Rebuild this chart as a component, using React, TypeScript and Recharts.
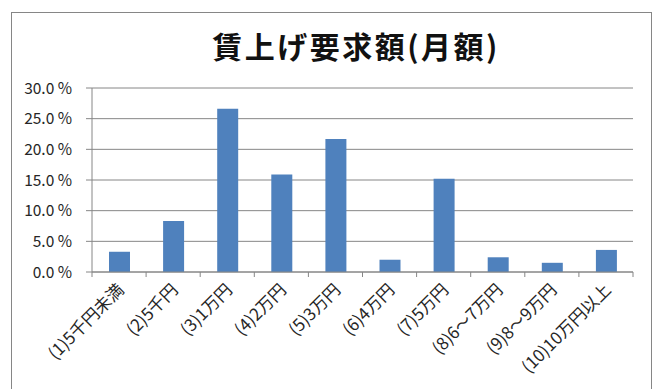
import React from 'react';
import { BarChart, Bar, XAxis, YAxis, CartesianGrid } from 'recharts';

// 賃上げ要求額（月額）の分布
const categories = [
  '(1)5千円未満',
  '(2)5千円',
  '(3)1万円',
  '(4)2万円',
  '(5)3万円',
  '(6)4万円',
  '(7)5万円',
  '(8)6～7万円',
  '(9)8～9万円',
  '(10)10万円以上',
];
const shares = [3.3, 8.3, 26.6, 15.9, 21.7, 2.0, 15.2, 2.4, 1.5, 3.6];
const yTicks = [0, 5, 10, 15, 20, 25, 30];

const W = 654;
const H = 389;
const MARGIN = { top: 88, right: 21, bottom: 17, left: 32 };
const Y_AXIS_W = 60;
const X_AXIS_H = 100;
const BAND = (W - MARGIN.left - MARGIN.right - Y_AXIS_W) / categories.length;

const FONT = '"Noto Sans CJK JP", "Noto Sans", sans-serif';
const TEXT = '#262626';
const LINE = '#868686';

const data = categories.map((name, i) => ({ name, value: shares[i] }));

// category label plus the boundary tick marks between categories
const CategoryTick = (props: any) => {
  const { x, y, payload, index } = props;
  const last = index === categories.length - 1;
  return (
    <g>
      <line x1={x - BAND / 2} y1={y} x2={x - BAND / 2} y2={y + 5} stroke={LINE} />
      {last && <line x1={x + BAND / 2} y1={y} x2={x + BAND / 2} y2={y + 5} stroke={LINE} />}
      <text
        transform={`translate(${x + 6},${y + 19}) rotate(-45)`}
        textAnchor="end"
        fontSize={17}
        fontFamily={FONT}
        fill={TEXT}
      >
        {payload.value}
      </text>
    </g>
  );
};

export default function App() {
  return (
    <div style={{ position: 'fixed', left: 0, top: 0, width: W, height: H, overflow: 'hidden', background: '#fff' }}>
      <div
        style={{
          position: 'absolute',
          left: 11,
          top: 12,
          width: 639,
          height: 420,
          border: `1.5px solid ${LINE}`,
        }}
      />
      <div
        style={{
          position: 'absolute',
          left: 0,
          width: 712,
          top: 26,
          textAlign: 'center',
          fontFamily: FONT,
          fontWeight: 700,
          fontSize: 30,
          letterSpacing: 2.5,
          lineHeight: '38px',
          color: '#111',
        }}
      >
        賃上げ要求額(月額)
      </div>
      <div style={{ position: 'absolute', left: 0, top: 0 }}>
        <BarChart width={W} height={H} data={data} margin={MARGIN}>
          <CartesianGrid horizontal vertical={false} stroke={LINE} />
          <XAxis
            dataKey="name"
            height={X_AXIS_H}
            interval={0}
            stroke={LINE}
            tickSize={0}
            tickMargin={0}
            tickLine={false}
            tick={<CategoryTick />}
          />
          <YAxis
            width={Y_AXIS_W}
            domain={[0, 30]}
            ticks={yTicks}
            stroke={LINE}
            tickSize={6}
            tickMargin={14}
            tickFormatter={(v: number) => `${v.toFixed(1)} %`}
            tick={{ fill: TEXT, fontSize: 15.5, fontFamily: FONT }}
          />
          <Bar dataKey="value" fill="#4F81BD" barSize={21} isAnimationActive={false} />
        </BarChart>
      </div>
    </div>
  );
}
